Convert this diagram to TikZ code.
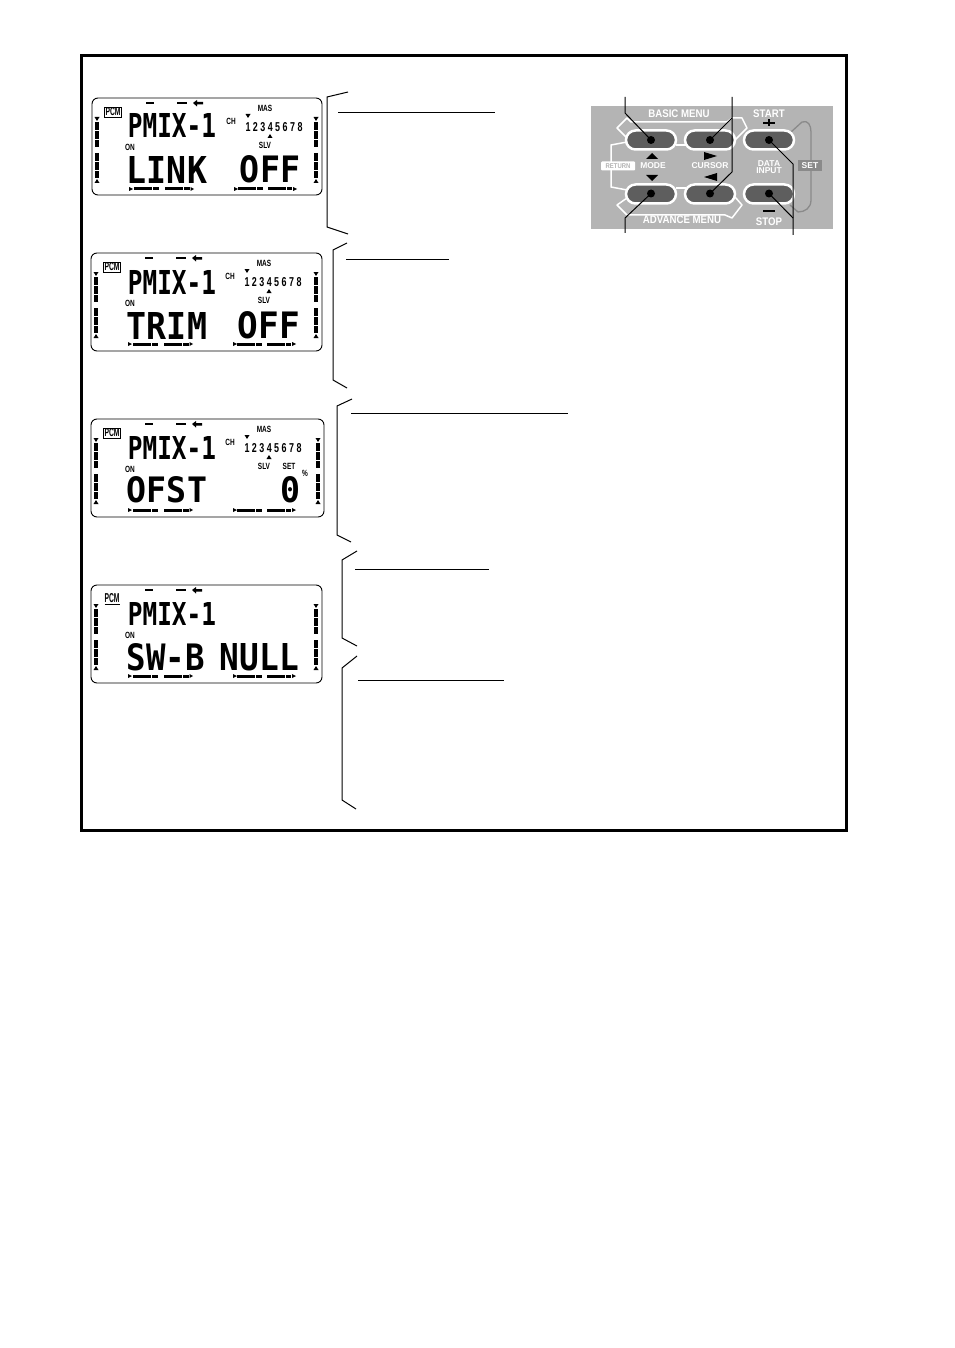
\documentclass[tikz,border=0pt]{standalone}
\usepackage{graphicx}
\usepackage{fontspec}
\setmainfont{Liberation Sans}
\newfontfamily\lcdfont{DejaVu Sans Mono}
\definecolor{panelgray}{HTML}{B4B4B4}
\definecolor{btngray}{HTML}{5E5E5E}
\definecolor{setgray}{HTML}{8A8A8A}
\tikzset{
  frameline/.style={draw=black,line width=3pt},
  lcdframe/.style={draw=black,line width=0.9pt,rounded corners=6pt},
  brace/.style={draw=black,line width=1pt,line join=miter},
  uline/.style={draw=black,line width=1pt},
  lab/.style={font=\bfseries\fontsize{9pt}{9pt}\selectfont,inner sep=0pt,text=black},
  plab/.style={font=\bfseries\fontsize{11pt}{11pt}\selectfont,inner sep=0pt,text=white},
  slab/.style={font=\bfseries\fontsize{8.5pt}{8pt}\selectfont,inner sep=0pt,text=white,align=center},
  wline/.style={draw=white,line width=1.5pt,line join=round},
  btn/.style={draw=white,fill=btngray,line width=2.5pt,rounded corners=9.5pt,minimum width=50pt,minimum height=19pt,inner sep=0pt},
  dotb/.style={circle,fill=black,minimum size=8pt,inner sep=0pt},
  lead/.style={draw=black,line width=1pt},
  bar/.style={draw=black,line width=3.8pt,dash pattern=on 8pt off 1pt},
  hbar/.style={draw=black,line width=3pt,dash pattern=on 18pt off 1pt},
}
\newcommand{\nw}[1]{\scalebox{0.72}[1]{#1}}
\newcommand{\pw}[1]{\scalebox{0.88}[1]{#1}}
% name x1 x2 ytop ybot text
\newcommand{\lcdword}[6]{\node[inner sep=0pt] (#1) at ({(#2+#3)/2},{(#4+#5)/2}) {\resizebox{\dimexpr #3pt-#2pt\relax}{\dimexpr #5pt-#4pt\relax}{\lcdfont\bfseries #6}};}
\newcommand{\tridown}[2]{\fill[black] (#1-2.5,#2-2) -- (#1+2.5,#2-2) -- (#1,#2+2) -- cycle;}
\newcommand{\triup}[2]{\fill[black] (#1-2.5,#2+2) -- (#1+2.5,#2+2) -- (#1,#2-2) -- cycle;}
% common LCD furniture: #1 x #2 y #3 w #4 h
\newcommand{\lcdbase}[4]{%
  \begin{scope}[shift={(#1,#2)}]
    \draw[lcdframe] (0,0) rectangle (#3,#4);
    \draw[black,line width=2.6pt] (54,5) -- (62,5) (85,5) -- (95,5);
    \fill[black] (101,5) -- (105,2) -- (105,4) -- (111,4) -- (111,6.5) -- (105,6.5) -- (105,8.5) -- cycle;
    \tridown{5}{21}
    \draw[bar] (5,24) -- (5,49);
    \draw[bar] (5,55) -- (5,80);
    \triup{5}{83}
    \tridown{#3-6}{21}
    \draw[bar] (#3-6,24) -- (#3-6,49);
    \draw[bar] (#3-6,55) -- (#3-6,80);
    \triup{#3-6}{83}
    \fill[black] (37,89) -- (41,91) -- (37,93) -- cycle;
    \draw[hbar] (42,91) -- (67,91);
    \draw[hbar] (73,91) -- (98,91);
    \fill[black] (102,91) -- (98.5,89) -- (98.5,93) -- cycle;
    \fill[black] (142,89) -- (146,91) -- (142,93) -- cycle;
    \draw[hbar] (146,91) -- (171,91);
    \draw[hbar] (176,91) -- (200,91);
    \fill[black] (205,91) -- (201,89) -- (201,93) -- cycle;
  \end{scope}}
\newcommand{\lcdch}[3]{%
  \begin{scope}[shift={(#1,#2)}]
    \node[lab] (#3ch) at (139,23) {\nw{CH}};
    \node[lab] (#3mas) at (173,10) {\nw{MAS}};
    \node[inner sep=0pt,font=\bfseries\fontsize{10pt}{10pt}\selectfont] (#3num) at (182,29.5) {\resizebox{57pt}{9pt}{1 2 3 4 5 6 7 8}};
    \tridown{156}{18}
    \triup{178}{38}
    \node[lab] (#3slv) at (173,47) {\nw{SLV}};
  \end{scope}}
\begin{document}
\begin{tikzpicture}[x=1pt,y=-1pt]
\useasboundingbox (0,0) rectangle (954,1348);
\fill[white] (0,0) rectangle (954,1348);
\draw[frameline] (81,55.5) rectangle (846.5,830);

% --- LCD 1
\lcdbase{92}{98}{230}{97}
\lcdch{92}{98}{a}
\node[draw=black,line width=0.7pt,inner sep=0.8pt] (apcm) at (113,112) {\resizebox{15pt}{8pt}{\bfseries PCM}};
\lcdword{at}{128}{216}{114}{138}{PMIX-1}
\node[lab] (aon) at (130,147) {\nw{ON}};
\lcdword{al}{127}{207}{156}{183}{LINK}
\lcdword{ar}{240}{300}{156}{183}{OFF}

% --- LCD 2
\lcdbase{91}{253}{231}{98}
\lcdch{91}{253}{b}
\node[draw=black,line width=0.7pt,inner sep=0.8pt] (bpcm) at (112,267) {\resizebox{15pt}{8pt}{\bfseries PCM}};
\lcdword{bt}{128}{216}{270}{294}{PMIX-1}
\node[lab] (bon) at (130,303) {\nw{ON}};
\lcdword{bl}{127}{207}{312}{339}{TRIM}
\lcdword{br}{238}{300}{312}{339}{OFF}

% --- LCD 3
\lcdbase{91}{419}{233}{98}
\lcdch{91}{419}{c}
\node[draw=black,line width=0.5pt,inner sep=0.8pt] (cpcm) at (112,433) {\resizebox{15pt}{8pt}{\bfseries PCM}};
\lcdword{ct}{128}{216}{436}{459}{PMIX-1}
\node[lab] (con) at (130,469) {\nw{ON}};
\lcdword{cl}{127}{207}{477}{503}{OFST}
\lcdword{cr}{280}{300}{477}{503}{0}
\node[lab] (cset) at (289,466) {\nw{SET}};
\node[lab] (cpct) at (305,473) {\nw{\%}};

% --- LCD 4
\lcdbase{91}{585}{231}{98}
\node[inner sep=0pt] (dpcm) at (112,599) {\resizebox{15pt}{9pt}{\bfseries\underline{PCM}}};
\lcdword{dt}{128}{216}{602}{625}{PMIX-1}
\node[lab] (don) at (130,635) {\nw{ON}};
\lcdword{dl}{127}{205}{644}{671}{SW-B}
\lcdword{dr}{220}{299}{644}{671}{NULL}

% --- brackets and rules
\draw[brace] (348,92) -- (327,97) -- (327,227) -- (348,234);
\draw[uline] (338,113) -- (495,113);
\draw[brace] (347,243) -- (333,250) -- (333,380) -- (347,388);
\draw[uline] (346,259) -- (449,259);
\draw[brace] (352,399) -- (337,406) -- (337,535) -- (351,542);
\draw[uline] (351,413) -- (568,413);
\draw[brace] (357,551) -- (342,560) -- (342,638) -- (357,646);
\draw[uline] (355,569) -- (489,569);
\draw[brace] (357,656) -- (342,668) -- (342,800) -- (356,809);
\draw[uline] (358,680) -- (504,680);

% --- key panel
\fill[panelgray] (591,106) rectangle (833,229);
% SET loop
\draw[setgray,line width=1.3pt,line join=round] (791,132) -- (802,122) .. controls (808,120) and (811,125) .. (811,132) -- (811,200) .. controls (811,208) and (805,212) .. (798,212) -- (790,205);
\node[fill=setgray,text=white,font=\bfseries\fontsize{8.5pt}{8pt}\selectfont,minimum width=24pt,minimum height=11pt,inner sep=0pt] (setb) at (810,166) {SET};
% white outlines
\draw[wline] (627,138) -- (617,128) -- (627,118) -- (631,122) -- (727,122) -- (732,118) -- (742,118) -- (747,128) -- (735,140);
\draw[wline] (627,142) -- (611,145) -- (611,187) -- (627,190);
\draw[wline] (676,145) -- (686,145);
\draw[wline] (676,188) -- (686,188);
\draw[wline] (627,198) -- (617,205) -- (627,215) -- (725,215) -- (732,218) -- (742,205) -- (735,197);
\node[fill=white,text=panelgray,font=\bfseries\fontsize{7pt}{7pt}\selectfont,minimum width=34pt,minimum height=9pt,inner sep=0pt,rounded corners=1pt] (ret) at (618,166) {\scalebox{0.85}[1]{RETURN}};
% buttons
\node[btn] (b1) at (651,140) {};
\node[btn] (b2) at (710,140) {};
\node[btn] (b3) at (769,140) {};
\node[btn] (b4) at (651,194) {};
\node[btn] (b5) at (710,194) {};
\node[btn] (b6) at (769,194) {};
\node[dotb] (d1) at (651,140) {};
\node[dotb] (d2) at (710,140) {};
\node[dotb] (d3) at (769,140) {};
\node[dotb] (d4) at (651,193.5) {};
\node[dotb] (d5) at (710,193.5) {};
\node[dotb] (d6) at (769,193.5) {};
% labels
\node[plab] (basic) at (679,114) {\pw{BASIC MENU}};
\node[plab] (adv) at (682,220) {\pw{ADVANCE MENU}};
\node[plab] (start) at (769,113.5) {\pw{START}};
\node[plab] (stop) at (769,222) {\pw{STOP}};
\node[slab] (mode) at (653,166) {MODE};
\node[slab] (cur) at (710,166) {CURSOR};
\node[slab] (data) at (769,167) {DATA\\[-0.5pt]INPUT};
% key symbols
\fill[black] (646,159) -- (658,159) -- (652,153) -- cycle;
\fill[black] (646,175) -- (658,175) -- (652,181) -- cycle;
\fill[black] (704,152) -- (717,156) -- (704,160) -- cycle;
\fill[black] (717,173) -- (704,177) -- (717,181) -- cycle;
\draw[black,line width=2.4pt] (763,123) -- (775,123) (769,119.5) -- (769,126.5);
\draw[black,line width=2.4pt] (763,211) -- (775,211);
% leaders
\coordinate (t1) at (625,97);
\coordinate (k1) at (625,113);
\coordinate (t2) at (732,97);
\coordinate (k2) at (732,118);
\coordinate (k5) at (732,172);
\coordinate (t4) at (625,233);
\coordinate (k4) at (625,218);
\coordinate (t3) at (793,235);
\coordinate (k3) at (793,164);
\coordinate (k6) at (793,218);
\draw[lead] (t1) -- (k1) -- (d1.center);
\draw[lead] (t2) -- (k2) -- (d2.center);
\draw[lead] (k2) -- (k5) -- (d5.center);
\draw[lead] (t4) -- (k4) -- (d4.center);
\draw[lead] (t3) -- (k3) -- (d3.center);
\draw[lead] (k6) -- (d6.center);
\end{tikzpicture}
\end{document}
